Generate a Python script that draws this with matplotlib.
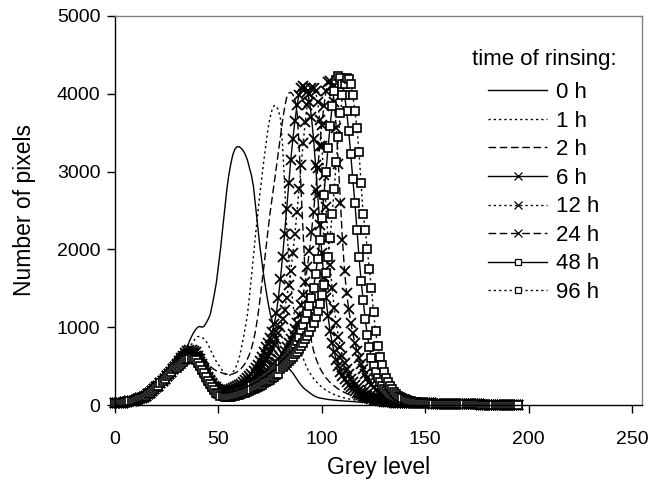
import numpy as np
import matplotlib
matplotlib.use("Agg")
import matplotlib.pyplot as plt
from matplotlib.lines import Line2D

plt.rcParams['font.family'] = ['Liberation Sans', 'DejaVu Sans']

# ---- data: grey level histograms (number of pixels) ----
labels = ["0 h", "1 h", "2 h", "6 h", "12 h", "24 h", "48 h", "96 h"]

# grey levels 0..29 (shared low rise)
rise = [20, 20, 25, 25, 30, 35, 40, 45, 50, 55, 65, 75, 85, 95, 105, 120, 135, 155, 175, 200,
        225, 250, 280, 310, 340, 370, 400, 430, 460, 490]

# grey levels 151..195 (shared far tail)
far_tail = [22, 21, 20, 19, 18, 17, 16, 16, 15, 14, 14, 13, 12, 12, 11, 11, 10, 10, 9, 9,
            8, 8, 8, 7, 7, 7, 6, 6, 6, 5, 5, 5, 5, 4, 4, 4, 4, 3, 3, 3, 3, 3, 2, 2, 2]

# grey levels 30..150 for each series
h0 = [530, 560, 600, 640, 690, 750, 820, 880, 930, 970,
      1000, 1010, 1000, 1010, 1050, 1100, 1160, 1280, 1420, 1570,
      1780, 2000, 2250, 2500, 2750, 2950, 3100, 3220, 3290, 3320,
      3320, 3300, 3270, 3220, 3150, 3050, 2950, 2800, 2550, 2300,
      2050, 1850, 1650, 1480, 1320, 1180, 1080, 960, 860, 760,
      680, 610, 550, 500, 470, 440, 410, 370, 330, 290,
      255, 225, 200, 180, 160, 140, 122, 108, 97, 90,
      85, 80, 75, 71, 68, 65, 62, 60, 57, 55,
      52, 50, 48, 46, 44, 42, 40, 38, 37, 36,
      35, 34, 33, 32, 31, 30, 29, 28, 28, 27,
      27, 26, 26, 25, 25, 24, 24, 24, 23, 23,
      23, 23, 23, 22, 22, 22, 22, 22, 22, 22, 22]
h1 = [520, 550, 585, 620, 660, 700, 740, 780, 820, 860,
      880, 880, 870, 850, 820, 780, 720, 660, 610, 560,
      520, 480, 440, 410, 390, 380, 390, 420, 460, 520,
      600, 720, 850, 1000, 1150, 1400, 1650, 1930, 2200, 2450,
      2700, 2930, 3150, 3350, 3550, 3700, 3800, 3850, 3840, 3790,
      3680, 3350, 2850, 2300, 1900, 1570, 1310, 1100, 940, 800,
      690, 600, 530, 470, 420, 380, 340, 310, 280, 255,
      230, 210, 190, 175, 160, 145, 135, 125, 115, 105,
      97, 90, 84, 78, 73, 68, 64, 60, 56, 53,
      50, 47, 45, 43, 41, 39, 37, 36, 34, 33,
      32, 31, 30, 29, 28, 27, 27, 26, 26, 25,
      25, 24, 24, 24, 23, 23, 23, 23, 22, 22, 22]
h2 = [510, 540, 575, 610, 645, 680, 700, 710, 710, 700,
      680, 650, 620, 590, 560, 530, 500, 475, 455, 440,
      430, 420, 410, 400, 395, 395, 395, 400, 410, 425,
      445, 470, 500, 540, 590, 650, 730, 830, 960, 1130,
      1330, 1550, 1780, 2020, 2250, 2470, 2660, 2850, 3050, 3250,
      3450, 3650, 3820, 3950, 4010, 4020, 3990, 3920, 3780, 3350,
      2750, 2210, 1650, 1250, 1000, 820, 700, 610, 540, 480,
      430, 390, 350, 320, 290, 265, 245, 225, 205, 190,
      175, 160, 148, 136, 125, 115, 106, 98, 91, 85,
      79, 74, 69, 65, 61, 57, 54, 51, 48, 46,
      44, 42, 40, 38, 36, 35, 34, 32, 31, 30,
      29, 28, 27, 27, 26, 25, 25, 24, 24, 23, 23]
h6 = [530, 565, 600, 635, 665, 690, 705, 708, 698, 675,
      635, 585, 530, 475, 420, 365, 318, 278, 248, 225,
      208, 196, 190, 188, 190, 195, 205, 215, 228, 242,
      258, 275, 295, 318, 342, 370, 400, 435, 472, 515,
      560, 620, 680, 740, 800, 860, 940, 1040, 1180, 1380,
      1620, 1900, 2200, 2520, 2850, 3150, 3420, 3650, 3850, 3990,
      4070, 4100, 4080, 4020, 3900, 3700, 3420, 3080, 2700, 2320,
      1960, 1640, 1370, 1140, 950, 800, 680, 580, 500, 430,
      375, 330, 290, 255, 225, 200, 180, 160, 145, 130,
      115, 105, 95, 85, 78, 70, 64, 58, 52, 47,
      43, 40, 37, 35, 33, 31, 30, 29, 28, 27,
      26, 26, 25, 25, 24, 24, 23, 23, 23, 22, 22]
h12 = [515, 545, 575, 605, 630, 650, 662, 665, 655, 635,
       598, 553, 503, 453, 403, 353, 308, 268, 236, 210,
       190, 175, 165, 160, 160, 160, 165, 170, 180, 190,
       205, 220, 240, 260, 280, 305, 330, 360, 390, 425,
       460, 500, 540, 585, 630, 680, 730, 790, 850, 920,
       1000, 1100, 1220, 1370, 1540, 1720, 1950, 2200, 2480, 2780,
       3080, 3370, 3640, 3860, 4000, 4070, 4080, 4030, 3900, 3660,
       3330, 2950, 2550, 2150, 1800, 1500, 1250, 1050, 880, 740,
       630, 540, 460, 395, 340, 295, 255, 222, 194, 170,
       150, 133, 118, 105, 94, 84, 76, 68, 61, 55,
       50, 46, 42, 39, 36, 34, 32, 30, 29, 28,
       27, 26, 26, 25, 25, 24, 24, 23, 23, 23, 22]
h24 = [510, 540, 570, 600, 625, 645, 656, 658, 650, 630,
       595, 550, 500, 450, 400, 350, 305, 265, 232, 206,
       186, 172, 163, 158, 157, 158, 162, 168, 176, 185,
       195, 205, 215, 225, 240, 255, 270, 285, 300, 320,
       340, 360, 385, 410, 435, 460, 490, 520, 550, 585,
       620, 660, 700, 745, 795, 850, 910, 980, 1060, 1160,
       1280, 1420, 1580, 1770, 1980, 2220, 2480, 2760, 3050, 3330,
       3600, 3840, 4030, 4150, 4170, 4100, 3900, 3560, 3100, 2600,
       2120, 1720, 1440, 1230, 1060, 920, 800, 700, 610, 530,
       460, 400, 345, 300, 260, 225, 195, 170, 148, 130,
       114, 100, 88, 78, 70, 62, 55, 49, 44, 40,
       37, 34, 32, 30, 29, 28, 27, 26, 25, 24, 23]
h48 = [495, 522, 550, 575, 596, 612, 621, 622, 614, 596,
       565, 525, 480, 433, 385, 337, 291, 250, 215, 187,
       165, 150, 140, 134, 132, 133, 136, 141, 148, 156,
       165, 175, 186, 198, 210, 224, 238, 253, 268, 284,
       300, 318, 337, 356, 376, 398, 421, 445, 470, 497,
       525, 555, 588, 622, 658, 696, 736, 778, 825, 878,
       970, 1030, 1100, 1180, 1270, 1380, 1510, 1680, 1880, 2120,
       2400, 2700, 3000, 3300, 3580, 3840, 4040, 4180, 4230, 4200,
       4120, 3980, 3780, 3520, 3220, 2900, 2600, 2250, 1900, 1600,
       1350, 1100, 900, 740, 610, 500, 420, 350, 295, 250,
       210, 180, 155, 133, 115, 100, 88, 77, 68, 60,
       53, 48, 44, 40, 37, 34, 32, 30, 28, 26, 25]
h96 = [480, 505, 530, 553, 572, 587, 596, 598, 590, 572,
       540, 500, 455, 408, 360, 312, 266, 225, 190, 160,
       138, 122, 112, 106, 104, 105, 108, 112, 118, 125,
       132, 140, 150, 160, 172, 184, 196, 208, 220, 234,
       248, 262, 277, 292, 308, 325, 343, 362, 382, 402,
       460, 485, 510, 535, 560, 590, 620, 650, 685, 720,
       760, 800, 845, 890, 940, 1000, 1060, 1130, 1210, 1300,
       1410, 1540, 1700, 1900, 2150, 2450, 2780, 3120, 3450, 3750,
       3980, 4130, 4200, 4190, 4120, 3980, 3780, 3560, 3250, 2850,
       2450, 2250, 2000, 1750, 1500, 1200, 950, 760, 620, 510,
       420, 350, 290, 245, 205, 172, 145, 122, 103, 88,
       75, 64, 55, 48, 42, 37, 33, 30, 28, 26, 24]

series_main = [h0, h1, h2, h6, h12, h24, h48, h96]

x_ticks = [0, 50, 100, 150, 200, 250]
y_ticks = [0, 1000, 2000, 3000, 4000, 5000]

# ---- styles ----
dot = (0, (1.6, 2.2))
dash = (0, (5.5, 2.6))
styles = [
    dict(ls='-', marker=None),
    dict(ls=dot, marker=None),
    dict(ls=dash, marker=None),
    dict(ls='-', marker='x'),
    dict(ls=dot, marker='x'),
    dict(ls=dash, marker='x'),
    dict(ls='-', marker='s'),
    dict(ls=dot, marker='s'),
]

W, H = 651, 487
fig = plt.figure(figsize=(W / 100, H / 100), dpi=100)
left, right, top, bottom = 115, 642, 16, 405
ax = fig.add_axes([left / W, 1 - bottom / H, (right - left) / W, (bottom - top) / H])

handles = []
for lab, main, st in zip(labels, series_main, styles):
    y = np.array(rise + main + far_tail, dtype=float)
    x = np.arange(len(y))
    kw = dict(color='black', lw=1.0, ls=st['ls'], clip_on=False)
    if st['marker'] == 'x':
        kw.update(marker='x', ms=7.5, mew=1.3, mec='black')
    elif st['marker'] == 's':
        kw.update(marker='s', ms=6, mew=1.2, mec='black', mfc='white')
    ax.plot(x, y, **kw)
    h = Line2D([], [], color='black', lw=1.0, ls=st['ls'])
    if st['marker'] == 'x':
        h.set_marker('x'); h.set_markersize(6); h.set_markeredgewidth(0.9)
    elif st['marker'] == 's':
        h.set_marker('s'); h.set_markersize(4.5); h.set_markeredgewidth(0.9)
        h.set_markerfacecolor('white'); h.set_markeredgecolor('black')
    handles.append(h)

ax.set_xlim(0, (right - left) / ((632 - 115) / 250))
ax.set_ylim(0, 5000)
ax.set_xticks(x_ticks)
ax.set_yticks(y_ticks)
ax.tick_params(direction='out', length=5.5, width=1, color='black', labelsize=14)
ax.tick_params(axis='x', pad=13)
ax.tick_params(axis='y', pad=5)
for s in ['top', 'right']:
    ax.spines[s].set_color('#808080')
    ax.spines[s].set_linewidth(1)
for s in ['left', 'bottom']:
    ax.spines[s].set_color('black')
    ax.spines[s].set_linewidth(1)

ax.set_xlabel('Grey level', fontsize=16.5, labelpad=6)
ax.set_ylabel('Number of pixels', fontsize=16.5, labelpad=15)

ax_w = right - left
ax_h = bottom - top
leg = ax.legend(handles, labels, title='time of rinsing:', loc='upper center',
                bbox_to_anchor=((544 - left) / ax_w, 1 - (42 - top) / ax_h),
                frameon=False, fontsize=16, title_fontsize=16, handlelength=2.65,
                handletextpad=0.4, labelspacing=0.34, numpoints=1, borderaxespad=0,
                borderpad=0.3)
leg._legend_box.align = 'center'
leg._legend_box.sep = 9

fig.savefig('out.png', dpi=100)
